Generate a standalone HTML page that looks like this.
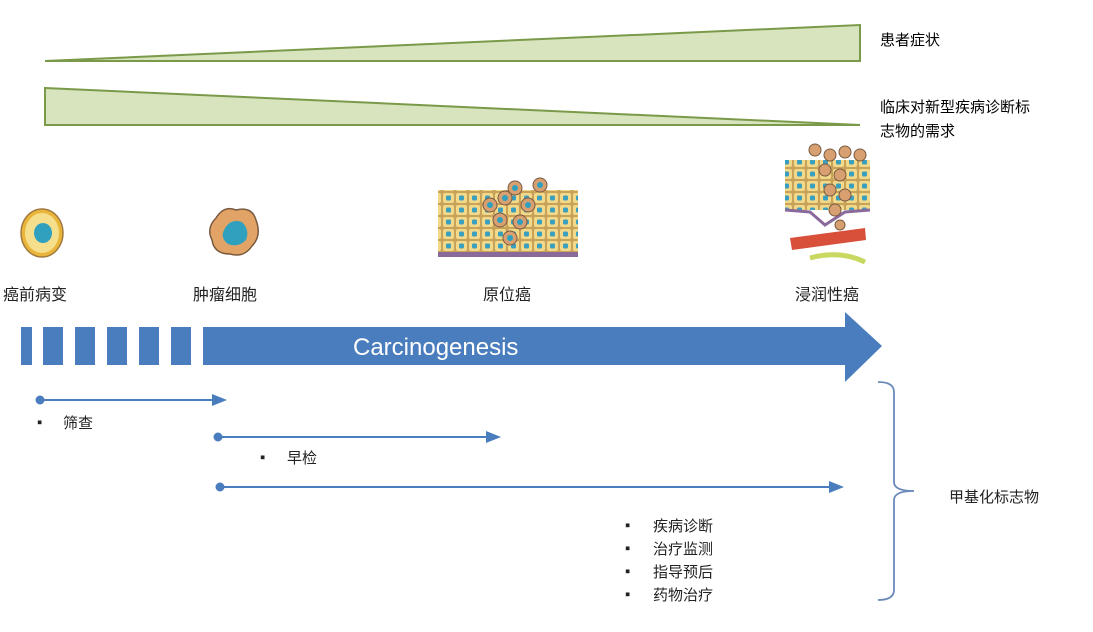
<!DOCTYPE html>
<html><head><meta charset="utf-8"><style>
body{margin:0;background:#fff;width:1093px;height:627px;overflow:hidden;font-family:"Liberation Sans","Noto Sans CJK SC",sans-serif;}
</style></head><body>
<svg width="1093" height="627" viewBox="0 0 1093 627" xmlns="http://www.w3.org/2000/svg" font-family="Liberation Sans, Noto Sans CJK SC, sans-serif">
<defs>
<pattern id="cells" width="13" height="12" patternUnits="userSpaceOnUse">
<rect width="13" height="12" fill="#c9a25a"/>
<rect x="1" y="1" width="11" height="10" rx="2" fill="#f2d98a"/>
<rect x="4" y="3.5" width="5" height="5" rx="1.5" fill="#3a9fbf"/>
</pattern>
<marker id="ah" markerWidth="16" markerHeight="12" refX="2" refY="6" orient="auto" markerUnits="userSpaceOnUse"><path d="M0,0 L15,6 L0,12Z" fill="#4a7dbd"/></marker>
</defs>
<polygon points="45,61 860,25 860,61" fill="#d7e4bd" stroke="#7a9a4a" stroke-width="2"/>
<polygon points="45,88 860,125 45,125" fill="#d7e4bd" stroke="#7a9a4a" stroke-width="2"/>
<text x="880" y="45" font-size="15">患者症状</text>
<text x="880" y="112" font-size="15">临床对新型疾病诊断标</text>
<text x="880" y="136" font-size="15">志物的需求</text>
<ellipse cx="42" cy="233" rx="21" ry="24" fill="#e9b53a" stroke="#a07a40" stroke-width="1.5"/>
<ellipse cx="42" cy="233" rx="17" ry="20" fill="#f6df8c"/>
<ellipse cx="43" cy="233" rx="9" ry="10" fill="#2fa0be"/>
<path d="M216,218 Q224,205 236,210 Q252,206 256,220 Q262,236 252,246 Q244,258 230,254 Q214,254 212,240 Q206,228 216,218Z" fill="#e2a466" stroke="#7a5a40" stroke-width="1.5"/>
<path d="M224,230 Q230,218 242,222 Q250,230 246,240 Q238,248 228,244 Q220,238 224,230Z" fill="#2fa0be"/>
<rect x="438" y="190" width="140" height="64" fill="url(#cells)"/>
<rect x="438" y="252" width="140" height="5" fill="#8a6a9a"/>
<g fill="#d8a070" stroke="#7a5a40"><circle cx="490" cy="205" r="7"/><circle cx="505" cy="198" r="7"/><circle cx="515" cy="188" r="7"/><circle cx="540" cy="185" r="7"/><circle cx="528" cy="205" r="7"/><circle cx="500" cy="220" r="7"/><circle cx="520" cy="222" r="7"/><circle cx="510" cy="238" r="7"/></g>
<g fill="#2fa0be"><circle cx="490" cy="205" r="3"/><circle cx="505" cy="198" r="3"/><circle cx="515" cy="188" r="3"/><circle cx="540" cy="185" r="3"/><circle cx="528" cy="205" r="3"/><circle cx="500" cy="220" r="3"/><circle cx="520" cy="222" r="3"/><circle cx="510" cy="238" r="3"/></g>
<rect x="785" y="160" width="85" height="50" fill="url(#cells)"/>
<path d="M785,210 L810,212 L825,225 L845,212 L870,210" stroke="#8a6a9a" stroke-width="3" fill="none"/>
<g fill="#d8a070" stroke="#7a5a40"><circle cx="815" cy="150" r="6"/><circle cx="830" cy="155" r="6"/><circle cx="845" cy="152" r="6"/><circle cx="860" cy="155" r="6"/><circle cx="825" cy="170" r="6"/><circle cx="840" cy="175" r="6"/><circle cx="830" cy="190" r="6"/><circle cx="845" cy="195" r="6"/><circle cx="835" cy="210" r="6"/><circle cx="840" cy="225" r="5"/><circle cx="835" cy="238" r="5"/></g>
<path d="M790,238 L865,228 L866,240 L792,250Z" fill="#d8503a"/>
<path d="M810,258 Q840,250 865,262" stroke="#c8d860" stroke-width="5" fill="none"/>
<g font-size="16" fill="#222">
<text x="3" y="300">癌前病变</text>
<text x="193" y="300">肿瘤细胞</text>
<text x="483" y="300">原位癌</text>
<text x="795" y="300">浸润性癌</text>
</g>
<g fill="#4a7dbd">
<rect x="21" y="327" width="11" height="38"/>
<rect x="43" y="327" width="20" height="38"/>
<rect x="75" y="327" width="20" height="38"/>
<rect x="107" y="327" width="20" height="38"/>
<rect x="139" y="327" width="20" height="38"/>
<rect x="171" y="327" width="20" height="38"/>
<polygon points="203,327 845,327 845,312 882,346 845,382 845,365 203,365"/>
</g>
<text x="353" y="355" font-size="24" fill="#fff">Carcinogenesis</text>
<g stroke="#4a7dbd" stroke-width="2" fill="#4a7dbd">
<line x1="40" y1="400" x2="214" y2="400" marker-end="url(#ah)"/><circle cx="40" cy="400" r="3.5"/>
<line x1="218" y1="437" x2="488" y2="437" marker-end="url(#ah)"/><circle cx="218" cy="437" r="3.5"/>
<line x1="220" y1="487" x2="831" y2="487" marker-end="url(#ah)"/><circle cx="220" cy="487" r="3.5"/>
</g>
<g font-size="15" fill="#222">
<text x="37" y="427">▪</text><text x="63" y="428">筛查</text>
<text x="260" y="462">▪</text><text x="287" y="463">早检</text>
<text x="625" y="530">▪</text><text x="653" y="531">疾病诊断</text>
<text x="625" y="553">▪</text><text x="653" y="554">治疗监测</text>
<text x="625" y="576">▪</text><text x="653" y="577">指导预后</text>
<text x="625" y="599">▪</text><text x="653" y="600">药物治疗</text>
<text x="949" y="502">甲基化标志物</text>
</g>
<path d="M878,382 Q894,382 894,392 L894,482 Q894,491 914,491 Q894,491 894,500 L894,590 Q894,600 878,600" stroke="#6a8ab8" stroke-width="1.8" fill="none"/>
</svg>
</body></html>
